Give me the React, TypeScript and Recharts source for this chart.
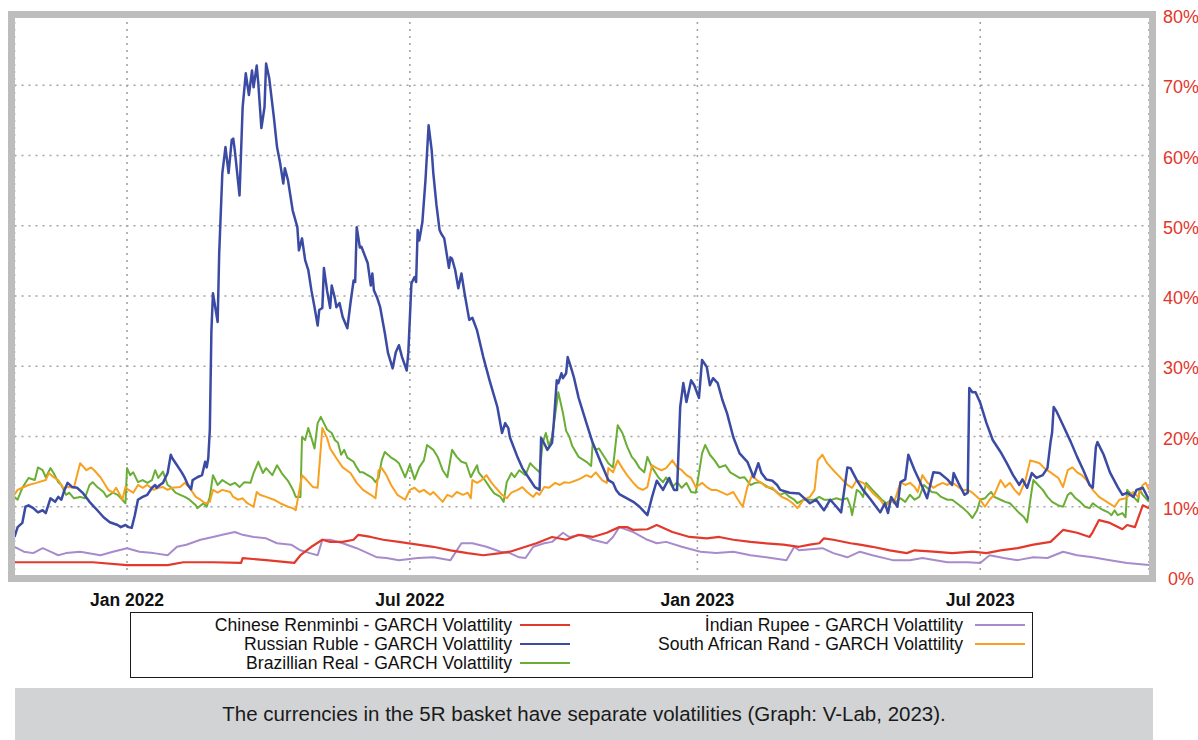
import { LineChart, Line, XAxis, YAxis, CartesianGrid } from 'recharts';

// GARCH volatility (%) per currency, [date, value]
const renminbiVol: [string, number][] = [
  ['2021-10-21', 2.1], ['2021-11-13', 2.1], ['2021-12-10', 2.1], ['2022-01-01', 1.7], ['2022-01-27', 1.7],
  ['2022-02-06', 2.1], ['2022-02-25', 2.1], ['2022-03-15', 2.0], ['2022-03-16', 2.7], ['2022-03-31', 2.4],
  ['2022-04-18', 2.0], ['2022-04-22', 3.1], ['2022-04-29', 4.3], ['2022-05-06', 5.3], ['2022-05-11', 5.0],
  ['2022-05-19', 5.0], ['2022-05-26', 5.3], ['2022-05-29', 6.0], ['2022-06-06', 5.7], ['2022-06-14', 5.3],
  ['2022-06-24', 5.0], ['2022-07-06', 4.6], ['2022-07-16', 4.3], ['2022-07-27', 3.8], ['2022-08-07', 3.4],
  ['2022-08-17', 3.1], ['2022-08-28', 3.4], ['2022-09-03', 3.6], ['2022-09-13', 4.3], ['2022-09-20', 4.8],
  ['2022-09-30', 5.7], ['2022-10-09', 5.3], ['2022-10-17', 6.0], ['2022-10-26', 5.7], ['2022-11-04', 6.3],
  ['2022-11-12', 7.1], ['2022-11-17', 7.1], ['2022-11-21', 6.7], ['2022-11-30', 6.8], ['2022-12-06', 7.4],
  ['2022-12-16', 6.4], ['2022-12-27', 5.7], ['2023-01-07', 5.5], ['2023-01-15', 5.7], ['2023-01-24', 5.3],
  ['2023-02-04', 5.0], ['2023-02-14', 4.8], ['2023-02-25', 4.6], ['2023-03-07', 4.3], ['2023-03-14', 4.6],
  ['2023-03-20', 4.8], ['2023-03-23', 5.5], ['2023-03-29', 5.3], ['2023-04-09', 4.8], ['2023-04-15', 4.6],
  ['2023-04-23', 4.3], ['2023-05-04', 3.8], ['2023-05-15', 3.4], ['2023-05-20', 3.8], ['2023-06-01', 3.6],
  ['2023-06-13', 3.4], ['2023-06-26', 3.6], ['2023-07-05', 3.4], ['2023-07-14', 3.8], ['2023-07-25', 4.1],
  ['2023-08-04', 4.6], ['2023-08-15', 5.0], ['2023-08-23', 6.7], ['2023-09-01', 6.3], ['2023-09-09', 5.7],
  ['2023-09-11', 6.4], ['2023-09-15', 8.1], ['2023-09-22', 7.7], ['2023-09-30', 6.8], ['2023-10-03', 7.4],
  ['2023-10-08', 7.1], ['2023-10-13', 10.2], ['2023-10-17', 9.8],
];

const rubleVol: [string, number][] = [
  ['2021-10-21', 5.7], ['2021-10-23', 7.1], ['2021-10-26', 7.7], ['2021-10-28', 10.0], ['2021-10-30', 10.2],
  ['2021-11-02', 9.8], ['2021-11-05', 9.2], ['2021-11-08', 9.5], ['2021-11-10', 9.1], ['2021-11-13', 11.2],
  ['2021-11-16', 10.7], ['2021-11-18', 11.4], ['2021-11-20', 11.0], ['2021-11-22', 12.4], ['2021-11-24', 13.4],
  ['2021-11-27', 12.8], ['2021-11-30', 12.7], ['2021-12-04', 11.9], ['2021-12-08', 10.7], ['2021-12-13', 9.5],
  ['2021-12-17', 8.5], ['2021-12-21', 7.8], ['2021-12-26', 7.4], ['2021-12-28', 7.1], ['2021-12-31', 7.4],
  ['2022-01-02', 7.1], ['2022-01-04', 7.0], ['2022-01-06', 8.8], ['2022-01-08', 11.0], ['2022-01-11', 11.4],
  ['2022-01-14', 11.7], ['2022-01-17', 12.7], ['2022-01-19', 13.1], ['2022-01-20', 12.7], ['2022-01-22', 13.1],
  ['2022-01-24', 13.4], ['2022-01-27', 14.8], ['2022-01-29', 17.4], ['2022-01-30', 16.9], ['2022-02-02', 15.9],
  ['2022-02-05', 14.9], ['2022-02-07', 14.1], ['2022-02-09', 13.1], ['2022-02-11', 12.5], ['2022-02-12', 13.8],
  ['2022-02-15', 14.2], ['2022-02-18', 14.5], ['2022-02-20', 16.4], ['2022-02-21', 15.6], ['2022-02-22', 16.9],
  ['2022-02-23', 21.0], ['2022-02-24', 35.0], ['2022-02-25', 40.4], ['2022-02-28', 36.3], ['2022-03-01', 46.1],
  ['2022-03-03', 57.5], ['2022-03-05', 61.2], ['2022-03-07', 57.5], ['2022-03-09', 62.2], ['2022-03-10', 62.4],
  ['2022-03-11', 60.7], ['2022-03-14', 54.3], ['2022-03-16', 66.9], ['2022-03-18', 71.7], ['2022-03-20', 68.6],
  ['2022-03-22', 72.1], ['2022-03-23', 69.7], ['2022-03-25', 72.8], ['2022-03-26', 70.3], ['2022-03-28', 63.9],
  ['2022-03-30', 66.9], ['2022-03-31', 73.1], ['2022-04-02', 71.0], ['2022-04-05', 65.4], ['2022-04-07', 61.2],
  ['2022-04-09', 58.9], ['2022-04-11', 56.0], ['2022-04-12', 58.2], ['2022-04-14', 56.5], ['2022-04-17', 52.2],
  ['2022-04-20', 49.8], ['2022-04-21', 46.5], ['2022-04-23', 48.2], ['2022-04-25', 45.1], ['2022-04-27', 43.7],
  ['2022-04-29', 40.8], ['2022-05-01', 38.4], ['2022-05-03', 35.8], ['2022-05-04', 38.0], ['2022-05-06', 38.3],
  ['2022-05-07', 44.0], ['2022-05-09', 40.8], ['2022-05-11', 38.3], ['2022-05-12', 41.5], ['2022-05-14', 39.7],
  ['2022-05-15', 38.4], ['2022-05-17', 39.0], ['2022-05-19', 37.0], ['2022-05-22', 35.4], ['2022-05-24', 39.0],
  ['2022-05-26', 42.2], ['2022-05-27', 42.0], ['2022-05-28', 49.8], ['2022-05-30', 46.9], ['2022-05-31', 47.0],
  ['2022-06-04', 44.7], ['2022-06-06', 41.5], ['2022-06-07', 43.2], ['2022-06-08', 40.8], ['2022-06-10', 39.8],
  ['2022-06-12', 38.4], ['2022-06-15', 34.7], ['2022-06-17', 31.9], ['2022-06-20', 29.7], ['2022-06-22', 32.0],
  ['2022-06-24', 33.0], ['2022-06-26', 31.3], ['2022-06-29', 29.4], ['2022-06-30', 31.9], ['2022-07-02', 41.8],
  ['2022-07-04', 42.7], ['2022-07-05', 42.0], ['2022-07-06', 49.4], ['2022-07-07', 47.9], ['2022-07-09', 50.5],
  ['2022-07-11', 56.5], ['2022-07-13', 64.3], ['2022-07-15', 60.7], ['2022-07-16', 57.5], ['2022-07-18', 53.0],
  ['2022-07-20', 49.4], ['2022-07-21', 48.9], ['2022-07-23', 48.2], ['2022-07-26', 44.0], ['2022-07-27', 45.5],
  ['2022-07-28', 45.3], ['2022-07-30', 43.7], ['2022-08-01', 41.1], ['2022-08-03', 43.2], ['2022-08-05', 40.4],
  ['2022-08-08', 36.6], ['2022-08-10', 36.9], ['2022-08-13', 35.1], ['2022-08-17', 31.3], ['2022-08-21', 28.0],
  ['2022-08-26', 24.2], ['2022-08-29', 20.5], ['2022-08-31', 21.9], ['2022-09-02', 21.2], ['2022-09-03', 19.9],
  ['2022-09-08', 17.0], ['2022-09-11', 15.5], ['2022-09-16', 13.8], ['2022-09-19', 12.8], ['2022-09-22', 12.4],
  ['2022-09-23', 19.8], ['2022-09-25', 19.0], ['2022-09-27', 18.1], ['2022-09-30', 19.1], ['2022-10-01', 21.6],
  ['2022-10-03', 28.0], ['2022-10-04', 27.6], ['2022-10-06', 29.0], ['2022-10-07', 28.3], ['2022-10-09', 29.0],
  ['2022-10-10', 31.3], ['2022-10-12', 29.9], ['2022-10-14', 28.4], ['2022-10-17', 25.5], ['2022-10-22', 21.9],
  ['2022-10-26', 19.1], ['2022-10-31', 16.4], ['2022-11-05', 13.8], ['2022-11-08', 13.4], ['2022-11-10', 12.4],
  ['2022-11-12', 11.8], ['2022-11-21', 10.7], ['2022-11-25', 10.0], ['2022-11-30', 8.8], ['2022-12-03', 11.4],
  ['2022-12-06', 13.7], ['2022-12-10', 12.4], ['2022-12-14', 14.1], ['2022-12-17', 12.4], ['2022-12-19', 12.4],
  ['2022-12-21', 24.2], ['2022-12-23', 27.6], ['2022-12-25', 24.9], ['2022-12-28', 28.0], ['2022-12-30', 27.3],
  ['2023-01-02', 25.5], ['2023-01-04', 30.9], ['2023-01-07', 29.9], ['2023-01-09', 27.3], ['2023-01-11', 28.3],
  ['2023-01-14', 27.6], ['2023-01-17', 25.2], ['2023-01-20', 23.3], ['2023-01-24', 19.9], ['2023-01-28', 17.6],
  ['2023-02-02', 16.4], ['2023-02-06', 14.2], ['2023-02-09', 16.2], ['2023-02-11', 14.8], ['2023-02-14', 13.9],
  ['2023-02-18', 13.7], ['2023-02-21', 13.1], ['2023-02-23', 12.4], ['2023-03-01', 12.0], ['2023-03-07', 11.9],
  ['2023-03-14', 10.5], ['2023-03-18', 11.0], ['2023-03-23', 9.5], ['2023-03-27', 11.0], ['2023-03-31', 10.0],
  ['2023-04-03', 9.2], ['2023-04-07', 15.6], ['2023-04-09', 15.5], ['2023-04-13', 13.8], ['2023-04-17', 12.4],
  ['2023-04-22', 11.0], ['2023-04-28', 9.2], ['2023-05-01', 10.5], ['2023-05-03', 9.1], ['2023-05-05', 11.4],
  ['2023-05-09', 10.0], ['2023-05-11', 13.5], ['2023-05-14', 13.9], ['2023-05-16', 17.4], ['2023-05-20', 15.2],
  ['2023-05-25', 12.8], ['2023-05-28', 11.2], ['2023-06-01', 14.9], ['2023-06-05', 14.8], ['2023-06-10', 13.9],
  ['2023-06-13', 13.1], ['2023-06-14', 14.8], ['2023-06-17', 13.4], ['2023-06-21', 11.7], ['2023-06-23', 12.0],
  ['2023-06-24', 26.9], ['2023-06-26', 26.3], ['2023-06-28', 26.3], ['2023-07-01', 24.8], ['2023-07-05', 21.9],
  ['2023-07-09', 19.5], ['2023-07-14', 17.8], ['2023-07-18', 16.2], ['2023-07-22', 14.5], ['2023-07-26', 13.1],
  ['2023-07-28', 13.9], ['2023-07-31', 12.7], ['2023-08-03', 14.8], ['2023-08-06', 14.1], ['2023-08-10', 14.5],
  ['2023-08-13', 15.5], ['2023-08-15', 19.2], ['2023-08-16', 20.6], ['2023-08-17', 24.2], ['2023-08-19', 23.5],
  ['2023-08-23', 21.6], ['2023-08-28', 19.2], ['2023-09-01', 17.1], ['2023-09-05', 15.2], ['2023-09-09', 13.1],
  ['2023-09-11', 12.7], ['2023-09-13', 18.5], ['2023-09-14', 19.2], ['2023-09-18', 17.4], ['2023-09-22', 14.9],
  ['2023-09-27', 12.8], ['2023-09-30', 11.7], ['2023-10-03', 12.0], ['2023-10-07', 11.4], ['2023-10-09', 12.4],
  ['2023-10-13', 12.7], ['2023-10-17', 11.0],
];

const realVol: [string, number][] = [
  ['2021-10-21', 11.4], ['2021-10-23', 11.0], ['2021-10-26', 12.7], ['2021-10-30', 14.1], ['2021-11-03', 13.8],
  ['2021-11-05', 15.6], ['2021-11-08', 15.2], ['2021-11-10', 14.2], ['2021-11-13', 15.5], ['2021-11-15', 14.8],
  ['2021-11-18', 13.5], ['2021-11-20', 13.1], ['2021-11-23', 11.7], ['2021-11-25', 12.0], ['2021-11-28', 11.2],
  ['2021-12-02', 11.4], ['2021-12-05', 11.2], ['2021-12-08', 13.1], ['2021-12-10', 13.5], ['2021-12-13', 12.8],
  ['2021-12-17', 12.1], ['2021-12-19', 11.4], ['2021-12-23', 12.0], ['2021-12-26', 11.7], ['2021-12-29', 11.0],
  ['2021-12-31', 10.5], ['2022-01-01', 15.5], ['2022-01-03', 14.5], ['2022-01-05', 14.9], ['2022-01-08', 13.5],
  ['2022-01-11', 13.8], ['2022-01-14', 13.4], ['2022-01-17', 13.8], ['2022-01-19', 15.2], ['2022-01-21', 14.1],
  ['2022-01-24', 15.0], ['2022-01-27', 13.1], ['2022-01-29', 12.8], ['2022-02-01', 12.0], ['2022-02-04', 11.7],
  ['2022-02-07', 11.4], ['2022-02-10', 11.0], ['2022-02-14', 10.2], ['2022-02-15', 9.8], ['2022-02-19', 10.5],
  ['2022-02-21', 10.0], ['2022-02-23', 11.4], ['2022-02-25', 14.5], ['2022-02-28', 13.1], ['2022-03-03', 13.8],
  ['2022-03-08', 13.1], ['2022-03-11', 13.4], ['2022-03-14', 12.8], ['2022-03-17', 13.5], ['2022-03-21', 13.4],
  ['2022-03-23', 14.8], ['2022-03-26', 16.4], ['2022-03-29', 14.8], ['2022-03-31', 15.5], ['2022-04-04', 14.5],
  ['2022-04-07', 15.9], ['2022-04-10', 14.8], ['2022-04-14', 13.7], ['2022-04-17', 12.5], ['2022-04-19', 11.4],
  ['2022-04-22', 11.4], ['2022-04-23', 19.9], ['2022-04-25', 19.5], ['2022-04-27', 21.2], ['2022-04-29', 19.8],
  ['2022-05-01', 18.3], ['2022-05-03', 21.9], ['2022-05-05', 22.8], ['2022-05-07', 21.9], ['2022-05-09', 21.0],
  ['2022-05-12', 20.5], ['2022-05-14', 19.5], ['2022-05-16', 19.1], ['2022-05-18', 17.4], ['2022-05-20', 18.1],
  ['2022-05-22', 17.0], ['2022-05-26', 16.4], ['2022-05-28', 15.6], ['2022-05-30', 14.9], ['2022-06-01', 14.9],
  ['2022-06-04', 14.5], ['2022-06-07', 14.1], ['2022-06-09', 13.5], ['2022-06-11', 14.1], ['2022-06-13', 16.6],
  ['2022-06-15', 17.8], ['2022-06-17', 17.4], ['2022-06-19', 17.0], ['2022-06-22', 16.6], ['2022-06-24', 16.2],
  ['2022-06-28', 14.2], ['2022-07-01', 16.0], ['2022-07-04', 13.9], ['2022-07-07', 15.6], ['2022-07-10', 16.6],
  ['2022-07-12', 18.8], ['2022-07-16', 18.1], ['2022-07-19', 17.0], ['2022-07-22', 15.2], ['2022-07-25', 14.2],
  ['2022-07-28', 18.1], ['2022-07-31', 17.1], ['2022-08-03', 16.4], ['2022-08-06', 16.2], ['2022-08-09', 14.2],
  ['2022-08-13', 15.9], ['2022-08-14', 14.9], ['2022-08-18', 13.8], ['2022-08-21', 12.8], ['2022-08-24', 11.9],
  ['2022-08-28', 11.4], ['2022-08-30', 10.7], ['2022-09-01', 13.5], ['2022-09-04', 14.8], ['2022-09-06', 14.2],
  ['2022-09-09', 15.2], ['2022-09-13', 14.5], ['2022-09-16', 16.2], ['2022-09-19', 15.5], ['2022-09-22', 14.9],
  ['2022-09-24', 19.1], ['2022-09-26', 20.5], ['2022-09-28', 18.6], ['2022-09-30', 20.0], ['2022-10-04', 26.3],
  ['2022-10-07', 23.3], ['2022-10-09', 20.8], ['2022-10-11', 20.0], ['2022-10-13', 18.6], ['2022-10-17', 17.1],
  ['2022-10-22', 16.4], ['2022-10-25', 15.8], ['2022-10-26', 19.1], ['2022-10-28', 18.1], ['2022-10-30', 18.3],
  ['2022-11-03', 16.9], ['2022-11-05', 16.2], ['2022-11-08', 15.6], ['2022-11-11', 21.6], ['2022-11-14', 20.5],
  ['2022-11-17', 18.6], ['2022-11-20', 17.1], ['2022-11-22', 16.6], ['2022-11-25', 15.5], ['2022-11-28', 14.9],
  ['2022-11-30', 17.1], ['2022-12-03', 15.6], ['2022-12-07', 14.2], ['2022-12-10', 13.5], ['2022-12-12', 14.2],
  ['2022-12-16', 12.8], ['2022-12-19', 13.5], ['2022-12-22', 12.7], ['2022-12-25', 13.4], ['2022-12-28', 12.1],
  ['2022-12-31', 12.0], ['2023-01-04', 17.6], ['2023-01-06', 18.8], ['2023-01-09', 17.4], ['2023-01-12', 16.6],
  ['2023-01-15', 15.6], ['2023-01-19', 15.9], ['2023-01-22', 14.9], ['2023-01-25', 14.5], ['2023-01-28', 14.1],
  ['2023-01-31', 14.2], ['2023-02-04', 13.1], ['2023-02-07', 13.4], ['2023-02-10', 13.5], ['2023-02-13', 13.1],
  ['2023-02-16', 12.7], ['2023-02-19', 12.4], ['2023-02-23', 11.7], ['2023-02-26', 12.0], ['2023-03-01', 11.4],
  ['2023-03-04', 11.0], ['2023-03-06', 10.5], ['2023-03-10', 11.0], ['2023-03-17', 11.0], ['2023-03-20', 11.4],
  ['2023-03-23', 11.0], ['2023-03-28', 11.0], ['2023-03-31', 11.2], ['2023-04-03', 11.0], ['2023-04-07', 11.2],
  ['2023-04-09', 10.0], ['2023-04-10', 8.8], ['2023-04-13', 12.4], ['2023-04-15', 12.1], ['2023-04-17', 11.4],
  ['2023-04-19', 13.4], ['2023-04-23', 12.4], ['2023-04-26', 11.7], ['2023-04-29', 11.0], ['2023-05-02', 10.5],
  ['2023-05-05', 11.0], ['2023-05-07', 10.5], ['2023-05-11', 11.2], ['2023-05-14', 10.7], ['2023-05-17', 11.7],
  ['2023-05-20', 11.0], ['2023-05-23', 11.4], ['2023-05-26', 13.1], ['2023-05-28', 12.7], ['2023-05-31', 12.1],
  ['2023-06-03', 12.0], ['2023-06-06', 11.4], ['2023-06-10', 11.0], ['2023-06-13', 11.0], ['2023-06-16', 10.5],
  ['2023-06-19', 10.0], ['2023-06-23', 9.2], ['2023-06-26', 8.4], ['2023-06-29', 9.5], ['2023-07-01', 11.0],
  ['2023-07-04', 11.2], ['2023-07-06', 11.7], ['2023-07-08', 12.1], ['2023-07-10', 11.4], ['2023-07-14', 11.0],
  ['2023-07-17', 10.7], ['2023-07-20', 10.5], ['2023-07-23', 9.8], ['2023-07-26', 9.1], ['2023-07-29', 8.5],
  ['2023-07-31', 7.8], ['2023-08-03', 12.4], ['2023-08-04', 13.8], ['2023-08-07', 13.1], ['2023-08-10', 12.4],
  ['2023-08-13', 11.4], ['2023-08-16', 10.7], ['2023-08-20', 10.2], ['2023-08-23', 10.0], ['2023-08-26', 11.7],
  ['2023-08-28', 12.0], ['2023-08-31', 11.2], ['2023-09-03', 10.7], ['2023-09-06', 10.0], ['2023-09-09', 9.8],
  ['2023-09-11', 10.5], ['2023-09-14', 10.0], ['2023-09-18', 9.5], ['2023-09-21', 9.2], ['2023-09-23', 8.8],
  ['2023-09-25', 9.5], ['2023-09-27', 8.8], ['2023-09-30', 9.1], ['2023-10-02', 8.5], ['2023-10-03', 12.4],
  ['2023-10-06', 11.7], ['2023-10-08', 11.2], ['2023-10-10', 10.7], ['2023-10-11', 12.4], ['2023-10-13', 11.7],
  ['2023-10-17', 10.7],
];

const rupeeVol: [string, number][] = [
  ['2021-10-21', 4.3], ['2021-10-27', 3.6], ['2021-11-02', 3.4], ['2021-11-08', 4.1], ['2021-11-13', 3.6],
  ['2021-11-18', 3.1], ['2021-11-23', 3.4], ['2021-12-02', 3.6], ['2021-12-15', 3.1], ['2021-12-23', 3.6],
  ['2022-01-01', 4.1], ['2022-01-09', 3.6], ['2022-01-18', 3.4], ['2022-01-27', 3.1], ['2022-02-02', 4.3],
  ['2022-02-08', 4.6], ['2022-02-17', 5.3], ['2022-02-25', 5.7], ['2022-03-03', 6.0], ['2022-03-11', 6.4],
  ['2022-03-16', 6.0], ['2022-03-23', 5.7], ['2022-03-31', 5.5], ['2022-04-07', 4.8], ['2022-04-16', 4.6],
  ['2022-04-22', 3.8], ['2022-04-28', 3.4], ['2022-05-03', 3.1], ['2022-05-06', 5.3], ['2022-05-11', 5.3],
  ['2022-05-19', 4.8], ['2022-05-28', 4.1], ['2022-06-04', 3.4], ['2022-06-10', 2.8], ['2022-06-16', 2.7],
  ['2022-06-24', 2.4], ['2022-07-06', 2.7], ['2022-07-16', 2.8], ['2022-07-27', 2.4], ['2022-08-03', 4.8],
  ['2022-08-10', 4.8], ['2022-08-19', 4.3], ['2022-08-28', 3.6], ['2022-09-03', 3.4], ['2022-09-09', 2.8],
  ['2022-09-13', 2.7], ['2022-09-18', 4.3], ['2022-09-25', 4.8], ['2022-09-30', 5.0], ['2022-10-07', 6.3],
  ['2022-10-11', 5.7], ['2022-10-19', 6.0], ['2022-10-26', 5.3], ['2022-11-04', 4.8], ['2022-11-08', 5.7],
  ['2022-11-12', 7.1], ['2022-11-21', 6.4], ['2022-11-30', 5.3], ['2022-12-06', 4.8], ['2022-12-12', 5.0],
  ['2022-12-22', 4.3], ['2023-01-03', 3.6], ['2023-01-13', 3.4], ['2023-01-24', 3.6], ['2023-02-04', 3.1],
  ['2023-02-14', 2.8], ['2023-02-27', 2.4], ['2023-03-04', 4.3], ['2023-03-07', 3.8], ['2023-03-22', 4.1],
  ['2023-03-29', 3.4], ['2023-04-07', 2.8], ['2023-04-15', 3.6], ['2023-04-23', 3.1], ['2023-05-06', 2.4],
  ['2023-05-17', 2.4], ['2023-05-25', 2.7], ['2023-06-10', 2.1], ['2023-06-23', 2.1], ['2023-07-01', 2.0],
  ['2023-07-07', 3.1], ['2023-07-16', 2.7], ['2023-07-25', 2.4], ['2023-08-04', 2.8], ['2023-08-13', 2.7],
  ['2023-08-23', 3.6], ['2023-09-01', 3.1], ['2023-09-11', 2.8], ['2023-09-22', 2.4], ['2023-10-03', 2.0],
  ['2023-10-17', 1.7],
];

const randVol: [string, number][] = [
  ['2021-10-21', 11.7], ['2021-10-23', 12.4], ['2021-10-26', 12.7], ['2021-10-30', 13.1], ['2021-11-04', 13.4],
  ['2021-11-10', 13.8], ['2021-11-12', 14.8], ['2021-11-15', 14.2], ['2021-11-18', 13.8], ['2021-11-21', 12.7],
  ['2021-11-25', 12.8], ['2021-11-28', 12.7], ['2021-12-02', 16.2], ['2021-12-06', 15.2], ['2021-12-09', 15.6],
  ['2021-12-11', 15.2], ['2021-12-15', 14.2], ['2021-12-17', 13.5], ['2021-12-20', 12.4], ['2021-12-23', 12.0],
  ['2021-12-25', 12.7], ['2021-12-27', 11.9], ['2021-12-29', 11.0], ['2021-12-31', 12.8], ['2022-01-02', 12.4],
  ['2022-01-05', 12.0], ['2022-01-08', 13.1], ['2022-01-11', 12.7], ['2022-01-14', 13.1], ['2022-01-18', 12.4],
  ['2022-01-21', 12.7], ['2022-01-24', 12.8], ['2022-01-27', 12.4], ['2022-01-30', 12.7], ['2022-02-04', 12.8],
  ['2022-02-07', 13.4], ['2022-02-10', 12.7], ['2022-02-14', 11.4], ['2022-02-17', 11.0], ['2022-02-20', 10.5],
  ['2022-02-23', 10.7], ['2022-02-25', 12.4], ['2022-02-28', 12.0], ['2022-03-03', 12.4], ['2022-03-08', 12.1],
  ['2022-03-10', 11.4], ['2022-03-13', 11.0], ['2022-03-16', 11.2], ['2022-03-19', 10.5], ['2022-03-23', 10.0],
  ['2022-03-25', 12.1], ['2022-03-27', 11.7], ['2022-03-31', 11.4], ['2022-04-05', 11.0], ['2022-04-09', 10.5],
  ['2022-04-14', 10.0], ['2022-04-17', 9.8], ['2022-04-19', 9.5], ['2022-04-21', 12.0], ['2022-04-23', 14.5],
  ['2022-04-26', 13.8], ['2022-04-30', 12.8], ['2022-05-03', 12.7], ['2022-05-04', 15.5], ['2022-05-06', 21.2],
  ['2022-05-09', 19.8], ['2022-05-11', 18.3], ['2022-05-13', 17.6], ['2022-05-15', 16.9], ['2022-05-19', 15.6],
  ['2022-05-24', 14.8], ['2022-05-28', 13.4], ['2022-06-01', 12.4], ['2022-06-06', 11.7], ['2022-06-09', 11.2],
  ['2022-06-11', 15.2], ['2022-06-13', 15.5], ['2022-06-16', 14.5], ['2022-06-19', 13.1], ['2022-06-23', 11.7],
  ['2022-06-28', 11.0], ['2022-07-01', 12.4], ['2022-07-04', 12.7], ['2022-07-07', 12.1], ['2022-07-10', 12.4],
  ['2022-07-14', 11.7], ['2022-07-16', 12.1], ['2022-07-19', 11.4], ['2022-07-22', 10.7], ['2022-07-25', 11.7],
  ['2022-07-28', 11.4], ['2022-07-31', 12.1], ['2022-08-04', 11.7], ['2022-08-07', 12.0], ['2022-08-09', 11.2],
  ['2022-08-10', 13.8], ['2022-08-13', 13.4], ['2022-08-16', 13.8], ['2022-08-19', 14.5], ['2022-08-22', 13.5],
  ['2022-08-25', 12.7], ['2022-08-29', 11.7], ['2022-09-01', 11.2], ['2022-09-04', 12.0], ['2022-09-08', 12.4],
  ['2022-09-11', 12.8], ['2022-09-14', 12.1], ['2022-09-18', 11.4], ['2022-09-20', 12.0], ['2022-09-22', 11.7],
  ['2022-09-25', 12.8], ['2022-09-28', 12.7], ['2022-10-02', 13.4], ['2022-10-05', 13.1], ['2022-10-08', 13.5],
  ['2022-10-11', 13.4], ['2022-10-16', 13.8], ['2022-10-19', 14.1], ['2022-10-22', 14.5], ['2022-10-25', 14.2],
  ['2022-10-28', 14.9], ['2022-11-01', 13.8], ['2022-11-04', 13.4], ['2022-11-05', 15.5], ['2022-11-08', 14.9],
  ['2022-11-11', 16.6], ['2022-11-14', 15.5], ['2022-11-17', 14.5], ['2022-11-21', 13.4], ['2022-11-24', 12.7],
  ['2022-11-27', 12.4], ['2022-11-30', 12.8], ['2022-12-03', 15.9], ['2022-12-06', 15.5], ['2022-12-09', 15.2],
  ['2022-12-12', 15.5], ['2022-12-16', 16.6], ['2022-12-19', 15.6], ['2022-12-22', 15.2], ['2022-12-25', 14.5],
  ['2022-12-28', 14.1], ['2022-12-31', 12.8], ['2023-01-04', 13.4], ['2023-01-07', 12.8], ['2023-01-10', 12.4],
  ['2023-01-13', 12.4], ['2023-01-17', 12.0], ['2023-01-20', 11.7], ['2023-01-24', 12.1], ['2023-01-27', 11.0],
  ['2023-01-30', 10.0], ['2023-02-02', 12.8], ['2023-02-05', 14.5], ['2023-02-08', 13.8], ['2023-02-11', 13.4],
  ['2023-02-14', 12.8], ['2023-02-18', 12.7], ['2023-02-21', 12.0], ['2023-02-24', 11.4], ['2023-02-28', 11.0],
  ['2023-03-03', 10.5], ['2023-03-06', 9.8], ['2023-03-10', 11.0], ['2023-03-14', 11.4], ['2023-03-17', 12.4],
  ['2023-03-19', 16.6], ['2023-03-22', 17.4], ['2023-03-25', 16.2], ['2023-03-29', 15.2], ['2023-04-01', 14.5],
  ['2023-04-04', 13.8], ['2023-04-07', 13.1], ['2023-04-10', 12.7], ['2023-04-13', 13.8], ['2023-04-17', 13.4],
  ['2023-04-20', 12.8], ['2023-04-23', 12.0], ['2023-04-28', 11.0], ['2023-05-01', 10.0], ['2023-05-04', 10.7],
  ['2023-05-07', 10.7], ['2023-05-11', 13.5], ['2023-05-14', 13.1], ['2023-05-17', 13.4], ['2023-05-20', 12.8],
  ['2023-05-22', 12.1], ['2023-05-25', 14.5], ['2023-05-28', 13.5], ['2023-06-01', 12.7], ['2023-06-04', 13.1],
  ['2023-06-07', 13.4], ['2023-06-10', 13.1], ['2023-06-13', 13.5], ['2023-06-17', 12.8], ['2023-06-20', 12.4],
  ['2023-06-23', 12.4], ['2023-06-26', 12.0], ['2023-07-01', 11.0], ['2023-07-04', 10.0], ['2023-07-07', 11.0],
  ['2023-07-10', 11.7], ['2023-07-14', 13.8], ['2023-07-17', 12.8], ['2023-07-20', 13.4], ['2023-07-23', 12.4],
  ['2023-07-26', 11.7], ['2023-07-30', 13.8], ['2023-08-02', 16.6], ['2023-08-05', 16.4], ['2023-08-08', 16.2],
  ['2023-08-11', 15.5], ['2023-08-15', 14.9], ['2023-08-20', 14.1], ['2023-08-23', 12.8], ['2023-08-26', 15.2],
  ['2023-08-29', 15.6], ['2023-09-01', 14.9], ['2023-09-04', 14.5], ['2023-09-07', 13.8], ['2023-09-11', 12.4],
  ['2023-09-15', 11.4], ['2023-09-20', 10.7], ['2023-09-25', 10.0], ['2023-09-28', 11.0], ['2023-10-02', 11.2],
  ['2023-10-07', 12.1], ['2023-10-10', 11.4], ['2023-10-13', 13.1], ['2023-10-15', 13.4], ['2023-10-17', 12.4],
];

const xTicks = ['2022-01-01', '2022-07-01', '2023-01-01', '2023-07-01'];
const xTickLabels = ['Jan 2022', 'Jul 2022', 'Jan 2023', 'Jul 2023'];
const xDomain = ['2021-10-21', '2023-10-17'];
const yTicks = [0, 10, 20, 30, 40, 50, 60, 70, 80];

const caption = 'The currencies in the 5R basket have separate volatilities (Graph: V-Lab, 2023).';

const series = [
  { key: 'rupee', name: 'İndian Rupee - GARCH Volattility', color: '#a88bcb', rows: rupeeVol, width: 2 },
  { key: 'renminbi', name: 'Chinese Renminbi - GARCH Volattility', color: '#e3392c', rows: renminbiVol, width: 2.2 },
  { key: 'real', name: 'Brazillian Real - GARCH Volattility', color: '#6aae35', rows: realVol, width: 2 },
  { key: 'rand', name: 'South African Rand - GARCH Volattility', color: '#f8a120', rows: randVol, width: 2 },
  { key: 'ruble', name: 'Russian Ruble - GARCH Volattility', color: '#3b4ba4', rows: rubleVol, width: 2.5 },
];

// legend slots: [series key, column, row]
const legendSlots: [string, number, number][] = [
  ['renminbi', 0, 0], ['ruble', 0, 1], ['real', 0, 2], ['rupee', 1, 0], ['rand', 1, 1],
];

const ts = (d: string) => Date.parse(d);
const toPoints = (rows: [string, number][]) => rows.map(([d, v]) => ({ t: ts(d), v }));

const sans = '"Liberation Sans", Arial, Helvetica, sans-serif';

const XTick = ({ x, payload }: any) => {
  const i = xTicks.findIndex((d) => ts(d) === payload.value);
  return (
    <text x={x} y={606} textAnchor="middle" fontFamily={sans} fontWeight="bold" fontSize={17.5} fill="#111">
      {xTickLabels[i]}
    </text>
  );
};

const YTick = ({ y, payload }: any) => (
  <text x={1181} y={y + 8} textAnchor="middle" fontFamily={sans} fontSize={18} fill="#e3352b">
    {payload.value}%
  </text>
);

export default function App() {
  const cols = [{ textRight: 512, swatch: 520 }, { textRight: 963, swatch: 975 }];
  const rowY = [625, 644, 663];
  return (
    <div style={{ position: 'absolute', left: 0, top: 0, width: 1198, height: 740, background: '#fff', overflow: 'hidden' }}>
      <LineChart width={1198} height={620} margin={{ top: 15, right: 0, bottom: 13, left: 14.5 }}>
        <CartesianGrid stroke="#a3a3a3" strokeDasharray="2 5" strokeWidth={1.6} />
        <XAxis
          dataKey="t"
          type="number"
          domain={[ts(xDomain[0]), ts(xDomain[1])]}
          ticks={xTicks.map(ts)}
          allowDataOverflow
          axisLine={false}
          tickLine={false}
          height={30}
          tick={<XTick />}
        />
        <YAxis
          orientation="right"
          domain={[0, 80]}
          ticks={yTicks}
          width={49}
          axisLine={false}
          tickLine={false}
          tick={<YTick />}
        />
        {series.map((s) => (
          <Line
            key={s.key}
            data={toPoints(s.rows)}
            dataKey="v"
            type="linear"
            stroke={s.color}
            strokeWidth={s.width}
            strokeLinejoin="round"
            dot={false}
            isAnimationActive={false}
          />
        ))}
      </LineChart>

      {/* plot frame */}
      <div
        style={{
          position: 'absolute', left: 8, top: 11, width: 1148, height: 571,
          border: '7px solid #bdbdbd', boxSizing: 'border-box', pointerEvents: 'none',
        }}
      />

      {/* legend */}
      <div
        style={{
          position: 'absolute', left: 130, top: 612, width: 903, height: 66,
          border: '1.5px solid #1a1a1a', boxSizing: 'border-box',
        }}
      />
      {legendSlots.map(([key, col, row]) => {
        const s = series.find((it) => it.key === key)!;
        const c = cols[col];
        const y = rowY[row];
        return (
          <div key={key}>
            <div
              style={{
                position: 'absolute', right: 1198 - c.textRight, top: y - 10, height: 20, lineHeight: '20px',
                fontFamily: sans, fontSize: 17.6, color: '#111', whiteSpace: 'nowrap',
              }}
            >
              {s.name}
            </div>
            <div style={{ position: 'absolute', left: c.swatch, top: y - 1, width: 50, height: 2, background: s.color }} />
          </div>
        );
      })}

      {/* caption */}
      <div
        style={{
          position: 'absolute', left: 15, top: 688, width: 1138, height: 52, background: '#d2d3d5',
          display: 'flex', alignItems: 'center', justifyContent: 'center',
          fontFamily: sans, fontSize: 20.5, color: '#1a1a1a',
        }}
      >
        {caption}
      </div>
    </div>
  );
}
